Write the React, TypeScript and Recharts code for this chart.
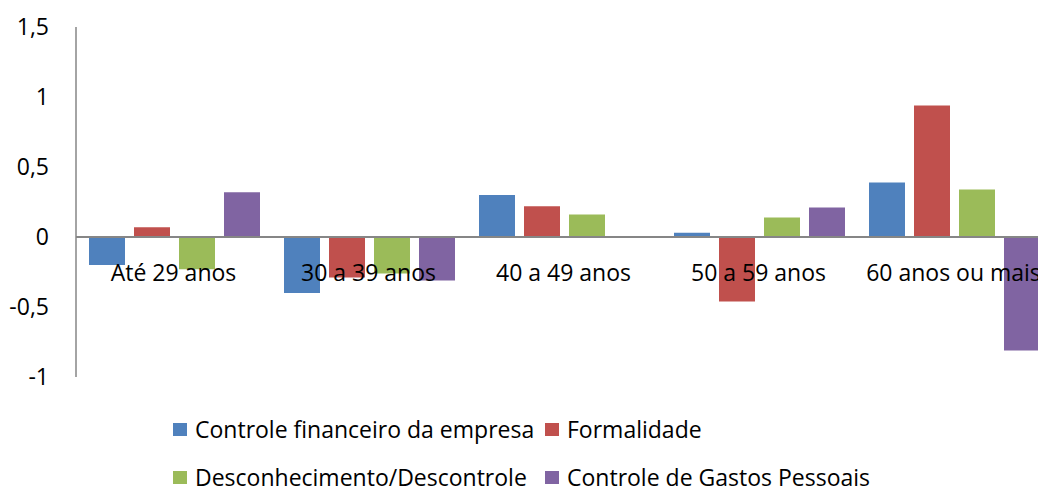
import { BarChart, Bar, XAxis, YAxis, ReferenceLine, Legend } from 'recharts'

const categories = ['Até 29 anos', '30 a 39 anos', '40 a 49 anos', '50 a 59 anos', '60 anos ou mais']
const controleFinanceiro = [-0.2, -0.4, 0.3, 0.03, 0.39]
const formalidade = [0.07, -0.29, 0.22, -0.46, 0.94]
const desconhecimento = [-0.23, -0.26, 0.16, 0.14, 0.34]
const gastosPessoais = [0.32, -0.31, 0, 0.21, -0.81]
const yTicks = [-1, -0.5, 0, 0.5, 1, 1.5]

const SERIES = [
  { key: 'controle', name: 'Controle financeiro da empresa', color: '#4F81BD' },
  { key: 'formalidade', name: 'Formalidade', color: '#C0504D' },
  { key: 'desconhecimento', name: 'Desconhecimento/Descontrole', color: '#9BBB59' },
  { key: 'gastos', name: 'Controle de Gastos Pessoais', color: '#8064A2' },
]

const data = categories.map((c, i) => ({
  categoria: c,
  controle: controleFinanceiro[i],
  formalidade: formalidade[i],
  desconhecimento: desconhecimento[i],
  gastos: gastosPessoais[i],
}))

const FONT = '"Open Sans", sans-serif'

const fmt = (v: number) => String(v).replace('.', ',')

// category labels sit just under the zero line, like the Excel original
function CategoryTick({ x, payload }: any) {
  return (
    <text x={x} y={281} textAnchor="middle" fontSize={23} fill="#000" fontFamily={FONT}>
      {payload.value}
    </text>
  )
}

function LegendRows() {
  const item = (s: (typeof SERIES)[number]) => (
    <div key={s.key} style={{ display: 'flex', alignItems: 'center', width: 372, flexShrink: 0 }}>
      <span style={{ width: 14, height: 13, background: s.color, marginRight: 8, flexShrink: 0 }} />
      <span style={{ fontSize: 23, lineHeight: '23px', color: '#000', fontFamily: FONT, whiteSpace: 'nowrap' }}>
        {s.name}
      </span>
    </div>
  )
  return (
    <div style={{ height: 104, paddingLeft: 173, boxSizing: 'border-box', overflow: 'visible' }}>
      <div style={{ paddingTop: 20 }}>
        <div style={{ display: 'flex', height: 48, alignItems: 'center' }}>
          {item(SERIES[0])}
          {item(SERIES[1])}
        </div>
        <div style={{ display: 'flex', height: 48, alignItems: 'center' }}>
          {item(SERIES[2])}
          {item(SERIES[3])}
        </div>
      </div>
    </div>
  )
}

export default function App() {
  return (
    <div style={{ position: 'fixed', top: 0, left: 0, width: 1038, height: 489, overflow: 'hidden', background: '#fff' }}>
      <BarChart
        width={1060}
        height={489}
        data={data}
        margin={{ top: 27, right: 9, bottom: 0, left: 0 }}
        barCategoryGap={13}
        barGap={9}
      >
        <YAxis
          width={76}
          domain={[-1, 1.5]}
          ticks={yTicks}
          tickFormatter={fmt}
          axisLine={{ stroke: '#868686', strokeWidth: 1.5 }}
          tickLine={false}
          tickMargin={21}
          tick={{ fontSize: 23, fill: '#000', fontFamily: FONT }}
          interval={0}
        />
        <XAxis
          dataKey="categoria"
          height={8}
          axisLine={false}
          tickLine={false}
          interval={0}
          tick={<CategoryTick />}
        />
        {SERIES.map((s) => (
          <Bar key={s.key} dataKey={s.key} name={s.name} fill={s.color} isAnimationActive={false} />
        ))}
        <ReferenceLine y={0} stroke="#868686" strokeWidth={2} />
        <Legend verticalAlign="bottom" align="left" content={<LegendRows />} />
      </BarChart>
    </div>
  )
}
